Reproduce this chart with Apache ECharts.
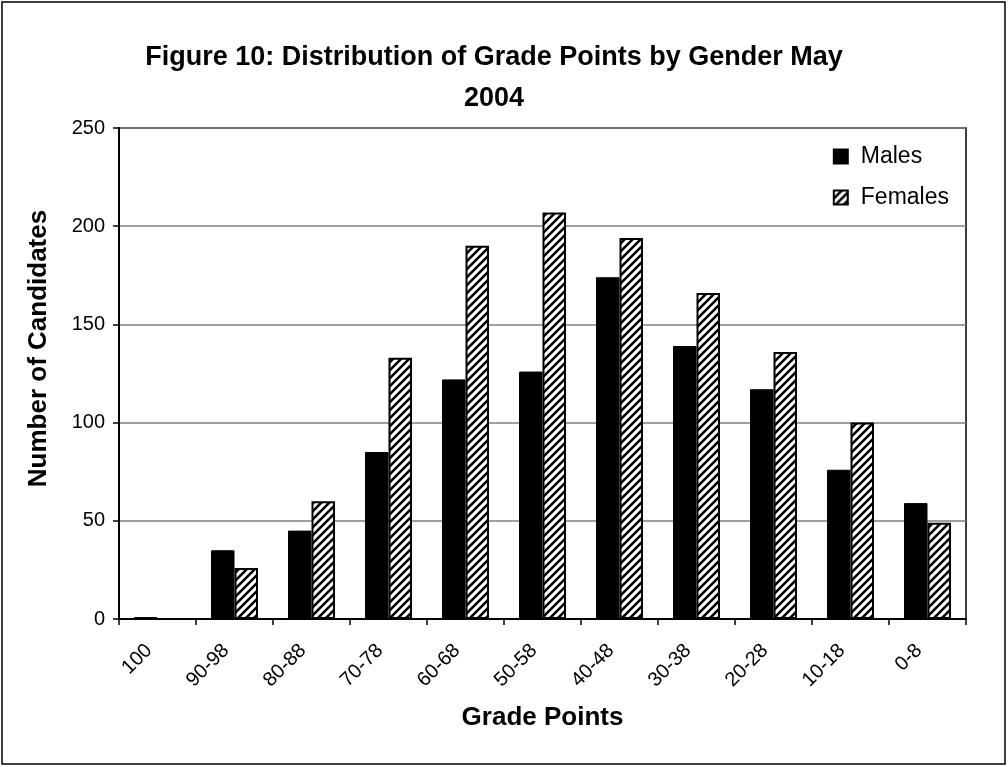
<!DOCTYPE html>
<html>
<head>
<meta charset="utf-8">
<script src="https://cdn.jsdelivr.net/npm/echarts@6/dist/echarts.min.js"></script>
<style>
  html, body { margin: 0; padding: 0; background: #fff; }
  #chart { width: 1008px; height: 767px; }
</style>
</head>
<body>
<div id="chart"></div>
<script>
// grade bands, highest first
var grades = ['100', '90-98', '80-88', '70-78', '60-68', '50-58', '40-48', '30-38', '20-28', '10-18', '0-8'];
var males = [1, 35, 45, 85, 122, 126, 174, 139, 117, 76, 59];
var females = [0, 26, 60, 133, 190, 207, 194, 166, 136, 100, 49];
var yTicks = [0, 50, 100, 150, 200, 250];

var FONT = '"Liberation Sans", Arial, sans-serif';

// diagonal hatch used for the females
function hatch() {
  var c = document.createElement('canvas');
  c.width = 8; c.height = 8;
  var g = c.getContext('2d');
  g.fillStyle = '#fff';
  g.fillRect(0, 0, 8, 8);
  g.strokeStyle = '#000';
  g.lineWidth = 2.6;
  g.beginPath();
  g.moveTo(-2, 10); g.lineTo(10, -2);
  g.moveTo(-6, 6); g.lineTo(6, -6);
  g.moveTo(2, 14); g.lineTo(14, 2);
  g.stroke();
  return c;
}
var stripes = { image: hatch(), repeat: 'repeat' };

var myChart = echarts.init(document.getElementById('chart'));
myChart.setOption({
  animation: false,
  backgroundColor: '#fff',
  textStyle: { fontFamily: FONT },
  title: {
    text: 'Figure 10: Distribution of Grade Points by Gender May\n2004',
    left: 489,
    top: 32,
    textAlign: 'center',
    textStyle: { fontFamily: FONT, fontSize: 27, fontWeight: 'bold', color: '#000', lineHeight: 41 }
  },
  legend: {
    orient: 'vertical',
    right: 54,
    top: 140,
    itemWidth: 14,
    itemHeight: 14,
    itemGap: 18,
    icon: 'rect',
    textStyle: { fontFamily: FONT, fontSize: 23, color: '#000', padding: [0, 0, 0, 8] },
    data: ['Males', 'Females']
  },
  grid: {
    left: 119,
    right: 42,
    top: 128,
    bottom: 148,
    show: true,
    borderColor: '#000',
    borderWidth: 1.5,
    containLabel: false
  },
  xAxis: {
    type: 'category',
    data: grades,
    boundaryGap: true,
    name: 'Grade Points',
    nameLocation: 'middle',
    nameGap: 86,
    nameTextStyle: { fontFamily: FONT, fontSize: 26, fontWeight: 'bold', color: '#000' },
    axisLine: { lineStyle: { color: '#000', width: 2 } },
    axisTick: { show: true, length: 6, alignWithLabel: false, lineStyle: { color: '#000', width: 1.5 } },
    axisLabel: { rotate: 45, fontSize: 20, color: '#000', margin: 20, interval: 0, padding: [0, 12, 0, 0] }
  },
  yAxis: {
    type: 'value',
    min: yTicks[0],
    max: yTicks[yTicks.length - 1],
    interval: 50,
    name: 'Number of Candidates',
    nameLocation: 'middle',
    nameGap: 67,
    nameTextStyle: { fontFamily: FONT, fontSize: 26, fontWeight: 'bold', color: '#000', padding: [0, 0, 0, 50] },
    axisLine: { show: true, lineStyle: { color: '#000', width: 2 } },
    axisTick: { show: true, length: 6, lineStyle: { color: '#000', width: 1.5 } },
    axisLabel: { fontSize: 20, color: '#000', margin: 14 },
    splitLine: { lineStyle: { color: '#7f7f7f', width: 1.5 } }
  },
  series: [
    {
      name: 'Males',
      type: 'bar',
      data: males,
      barGap: '0%',
      barCategoryGap: '39%',
      itemStyle: { color: '#000', borderColor: '#000', borderWidth: 1 }
    },
    {
      name: 'Females',
      type: 'bar',
      data: females,
      itemStyle: { color: stripes, borderColor: '#000', borderWidth: 2 }
    }
  ],
  graphic: [
    {
      type: 'rect',
      shape: { x: 2, y: 2, width: 1003, height: 762 },
      style: { fill: null, stroke: '#000', lineWidth: 1.5 },
      silent: true
    }
  ]
});
</script>
</body>
</html>
